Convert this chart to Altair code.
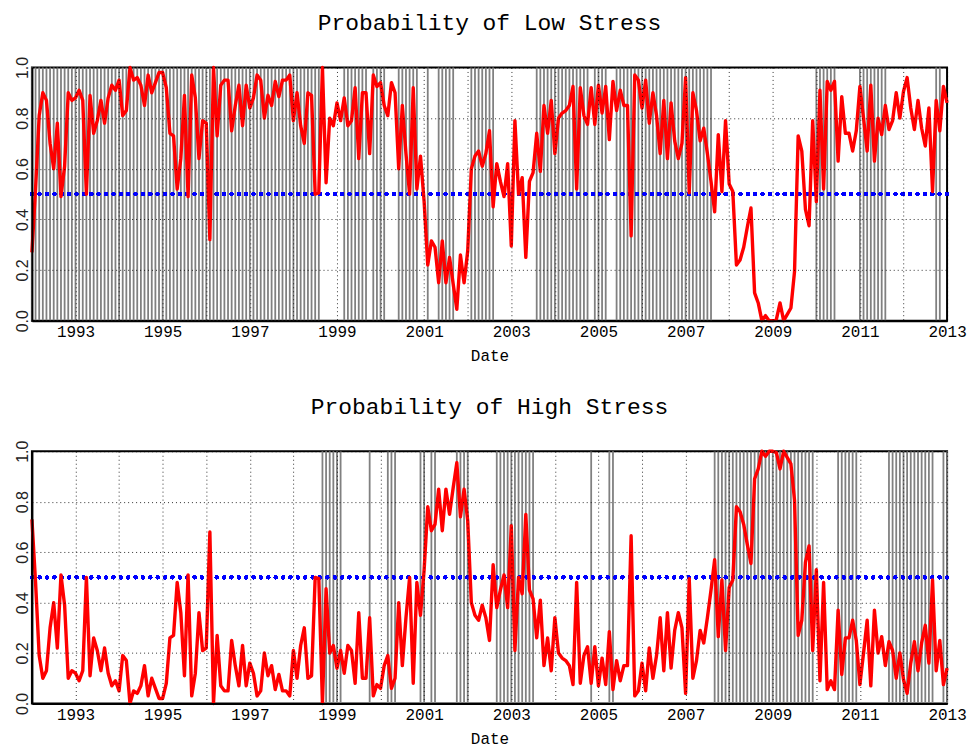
import altair as alt
import pandas as pd

# Monthly observations, first value = January 1992, last = January 2013
start_year = 1992

low_stress = [
    0.27, 0.52, 0.81, 0.90, 0.87, 0.70, 0.60, 0.78, 0.49, 0.61, 0.90, 0.87,
    0.88, 0.91, 0.87, 0.50, 0.89, 0.74, 0.79, 0.87, 0.78, 0.88, 0.93, 0.91,
    0.95, 0.81, 0.83, 1.00, 0.95, 0.96, 0.93, 0.85, 0.97, 0.90, 0.94, 0.98,
    0.98, 0.92, 0.74, 0.73, 0.52, 0.64, 0.89, 0.49, 0.97, 0.88, 0.64, 0.79,
    0.78, 0.32, 1.00, 0.73, 0.93, 0.95, 0.95, 0.75, 0.85, 0.93, 0.77, 0.93,
    0.84, 0.88, 0.97, 0.95, 0.80, 0.89, 0.85, 0.945, 0.885, 0.95, 0.95, 0.97,
    0.79, 0.90, 0.77, 0.70, 0.90, 0.89, 0.50, 0.505, 1.00, 0.545, 0.80, 0.77,
    0.86, 0.79, 0.88, 0.77, 0.79, 0.92, 0.64, 0.90, 0.90, 0.66, 0.97, 0.925,
    0.94, 0.85, 0.81, 0.94, 0.90, 0.60, 0.85, 0.66, 0.50, 0.92, 0.52, 0.65,
    0.47, 0.22, 0.315, 0.29, 0.15, 0.315, 0.15, 0.25, 0.145, 0.045, 0.26, 0.15,
    0.275, 0.60, 0.65, 0.67, 0.61, 0.66, 0.75, 0.45, 0.62, 0.55, 0.49, 0.62,
    0.295, 0.79, 0.50, 0.565, 0.25, 0.55, 0.585, 0.74, 0.59, 0.85, 0.74, 0.87,
    0.66, 0.80, 0.82, 0.83, 0.85, 0.925, 0.52, 0.92, 0.81, 0.775, 0.92, 0.775,
    0.93, 0.82, 0.925, 0.715, 0.945, 0.83, 0.91, 0.85, 0.85, 0.335, 0.97, 0.95,
    0.84, 0.95, 0.78, 0.90, 0.81, 0.66, 0.87, 0.64, 0.86, 0.71, 0.64, 0.70,
    0.96, 0.505, 0.90, 0.83, 0.71, 0.76, 0.66, 0.55, 0.43, 0.735, 0.51, 0.79,
    0.54, 0.51, 0.22, 0.24, 0.29, 0.37, 0.445, 0.11, 0.07, 0.00, 0.02, 0.00,
    0.00, 0.005, 0.07, 0.00, 0.025, 0.05, 0.195, 0.73, 0.67, 0.44, 0.375, 0.79,
    0.47, 0.91, 0.52, 0.945, 0.91, 0.945, 0.63, 0.885, 0.74, 0.74, 0.67, 0.75,
    0.925, 0.80, 0.67, 0.93, 0.63, 0.80, 0.735, 0.85, 0.755, 0.79, 0.90, 0.80,
    0.905, 0.96, 0.84, 0.755, 0.87, 0.76, 0.69, 0.84, 0.51, 0.87, 0.75, 0.925,
    0.86,
]

high_stress = [
    0.73, 0.48, 0.19, 0.10, 0.13, 0.30, 0.40, 0.22, 0.51, 0.39, 0.10, 0.13,
    0.12, 0.09, 0.13, 0.50, 0.11, 0.26, 0.21, 0.13, 0.22, 0.12, 0.07, 0.09,
    0.05, 0.19, 0.17, 0.00, 0.05, 0.04, 0.07, 0.15, 0.03, 0.10, 0.06, 0.02,
    0.02, 0.08, 0.26, 0.27, 0.48, 0.36, 0.11, 0.51, 0.03, 0.12, 0.36, 0.21,
    0.22, 0.68, 0.00, 0.27, 0.07, 0.05, 0.05, 0.25, 0.15, 0.07, 0.23, 0.07,
    0.16, 0.12, 0.03, 0.05, 0.20, 0.11, 0.15, 0.055, 0.115, 0.05, 0.05, 0.03,
    0.21, 0.10, 0.23, 0.30, 0.10, 0.11, 0.50, 0.495, 0.00, 0.455, 0.20, 0.23,
    0.14, 0.21, 0.12, 0.23, 0.21, 0.08, 0.36, 0.10, 0.10, 0.34, 0.03, 0.075,
    0.06, 0.15, 0.19, 0.06, 0.10, 0.40, 0.15, 0.34, 0.50, 0.08, 0.48, 0.35,
    0.53, 0.78, 0.685, 0.71, 0.85, 0.685, 0.85, 0.75, 0.855, 0.955, 0.74, 0.85,
    0.725, 0.40, 0.35, 0.33, 0.39, 0.34, 0.25, 0.55, 0.38, 0.45, 0.51, 0.38,
    0.705, 0.21, 0.50, 0.435, 0.75, 0.45, 0.415, 0.26, 0.41, 0.15, 0.26, 0.13,
    0.34, 0.20, 0.18, 0.17, 0.15, 0.075, 0.48, 0.08, 0.19, 0.225, 0.08, 0.225,
    0.07, 0.18, 0.075, 0.285, 0.055, 0.17, 0.09, 0.15, 0.15, 0.665, 0.03, 0.05,
    0.16, 0.05, 0.22, 0.10, 0.19, 0.34, 0.13, 0.36, 0.14, 0.29, 0.36, 0.30,
    0.04, 0.495, 0.10, 0.17, 0.29, 0.24, 0.34, 0.45, 0.57, 0.265, 0.49, 0.21,
    0.46, 0.49, 0.78, 0.76, 0.71, 0.63, 0.555, 0.89, 0.93, 1.00, 0.98, 1.00,
    1.00, 0.995, 0.93, 1.00, 0.975, 0.95, 0.805, 0.27, 0.33, 0.56, 0.625, 0.21,
    0.53, 0.09, 0.48, 0.055, 0.09, 0.055, 0.37, 0.115, 0.26, 0.26, 0.33, 0.25,
    0.075, 0.20, 0.33, 0.07, 0.37, 0.20, 0.265, 0.15, 0.245, 0.21, 0.10, 0.20,
    0.095, 0.04, 0.16, 0.245, 0.13, 0.24, 0.31, 0.16, 0.49, 0.13, 0.25, 0.075,
    0.14,
]

# Months classified as the high-stress regime (first month, last month)
high_regime_periods = [
    ("1998-09", "1999-02"), ("1999-10", "1999-10"), ("2000-03", "2000-05"),
    ("2000-12", "2001-01"), ("2001-03", "2001-04"), ("2001-10", "2002-01"),
    ("2002-09", "2003-07"), ("2004-11", "2004-11"), ("2005-04", "2005-05"),
    ("2007-09", "2009-12"), ("2010-07", "2010-12"), ("2011-09", "2012-09"),
    ("2012-12", "2013-01"),
]

x_ticks = list(range(1992, 2014))
y_ticks = [0.0, 0.1, 0.2, 0.3, 0.4, 0.5, 0.6, 0.7, 0.8, 0.9, 1.0]
threshold = 0.5


def month_key(s):
    y, m = s.split("-")
    return int(y) * 12 + int(m) - 1


periods = [(month_key(a), month_key(b)) for a, b in high_regime_periods]
rows = []
for i, (lo, hi) in enumerate(zip(low_stress, high_stress)):
    key = start_year * 12 + i
    regime = 1 if any(a <= key <= b for a, b in periods) else 0
    rows.append({"t": start_year + i / 12.0, "low": lo, "high": hi, "regime": regime})
df = pd.DataFrame(rows)

MONO = "Liberation Mono"


def panel(title, field, shade_regime, h):
    x_enc = alt.X(
        "t:Q",
        scale=alt.Scale(domain=[1992, 2013], nice=False, zero=False),
        axis=alt.Axis(
            values=x_ticks, format="d",
            labelExpr="datum.value % 2 == 1 ? datum.label : ''",
            title="Date", titleFont=MONO, titleFontSize=16, titleFontWeight="normal",
            titleColor="black", titlePadding=8,
            labelFont=MONO, labelFontSize=16, labelColor="black",
            labelPadding=3, labelFlush=False, labelOverlap=False, labelBound=False,
            ticks=False, domain=True, domainColor="black", domainWidth=2,
            grid=True, gridColor="black", gridDash=[1, 3], gridOpacity=0.8,
            gridWidth=1, zindex=1,
        ),
    )
    y_enc = alt.Y(
        f"{field}:Q",
        scale=alt.Scale(domain=[0, 1], nice=False, zero=False),
        axis=alt.Axis(
            values=y_ticks, format=".1f",
            labelExpr="round(datum.value * 10) % 2 == 0 ? datum.label : ''",
            title=None, labelAngle=270, labelAlign="center", labelBaseline="alphabetic",
            labelFont="Liberation Sans", labelFontSize=16, labelColor="#222",
            labelPadding=4, labelFlush=False, labelOverlap=False, labelBound=False,
            ticks=False, domain=True, domainColor="black", domainWidth=2,
            grid=True, gridColor="black", gridDash=[1, 3], gridOpacity=0.8,
            gridWidth=1, zindex=1,
        ),
    )
    base = alt.Chart(df)
    shade = base.transform_filter(alt.datum.regime == shade_regime).mark_rule(
        color="#808080", strokeWidth=1.8
    ).encode(x=x_enc)
    thr = base.mark_rule(
        color="#0000ff", strokeWidth=3.6, strokeDash=[0.1, 7.3], strokeCap="round"
    ).encode(y=alt.datum(threshold))
    line = base.mark_line(color="#ff0000", strokeWidth=3.4, strokeJoin="round").encode(
        x=x_enc, y=y_enc
    )
    return alt.layer(shade, thr, line).properties(
        width=918, height=h,
        title=alt.TitleParams(
            title, font=MONO, fontSize=23, fontWeight="normal", color="black",
            anchor="middle", offset=21,
        ),
    )


top = panel("Probability of Low Stress", "low", 0, 254)
bottom = panel("Probability of High Stress", "high", 1, 253)

chart = (
    alt.vconcat(top, bottom, spacing=30)
    .properties(padding={"left": 5, "top": 1.5, "right": 0, "bottom": 0}, background="white")
    .configure_view(stroke="black", strokeWidth=2)
)

chart.save("out.html", embed_options={"renderer": "svg", "actions": False})
